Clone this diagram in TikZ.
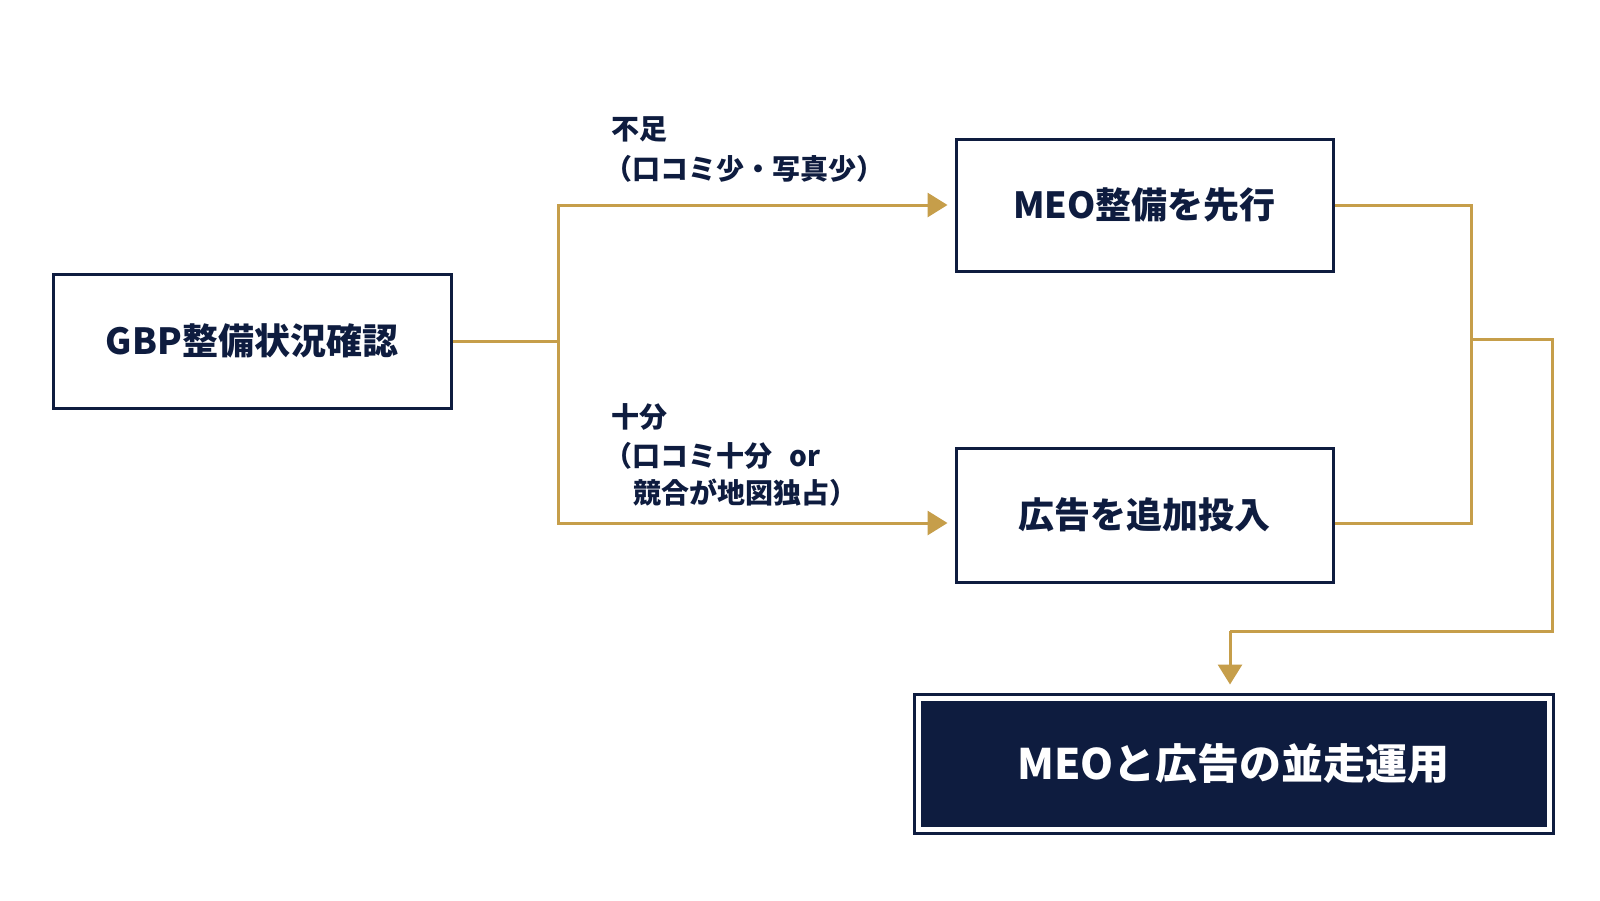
\documentclass[tikz,border=0pt]{standalone}
\usepackage{fontspec}
\setmainfont{Noto Sans CJK JP}
\usetikzlibrary{arrows.meta,calc}
\definecolor{navy}{HTML}{0E1C3F}
\definecolor{gold}{HTML}{C69E4A}
\tikzset{
  box/.style={draw=navy,line width=1.5pt,fill=white,text=navy,font=\bfseries\fontsize{18}{22}\selectfont,inner sep=0pt},
  conn/.style={draw=gold,line width=1.5pt},
  arr/.style={conn,-{Triangle[length=10pt,width=12pt]}},
  lbl/.style={anchor=west,text=navy,font=\bfseries\fontsize{14}{17}\selectfont,inner sep=0pt}
}
\begin{document}
\begin{tikzpicture}[x=0.5pt,y=-0.5pt]
\useasboundingbox (0,0) rectangle (1600,900);
\fill[white] (0,0) rectangle (1600,900);
% boxes
\node[box,minimum width=199pt,minimum height=67pt] (gbp) at (252,341) {GBP整備状況確認};
\node[box,minimum width=188.5pt,minimum height=66pt] (meo) at (1144.5,205) {MEO整備を先行};
\node[box,minimum width=188.5pt,minimum height=67pt] (ad) at (1144.5,515) {広告を追加投入};
\node[draw=navy,line width=1.5pt,fill=white,minimum width=319.5pt,minimum height=69.5pt,inner sep=0pt] (fin) at (1233.5,763.5) {};
\node[fill=navy,minimum width=313pt,minimum height=63pt,inner sep=0pt,text=white,font=\bfseries\fontsize{21}{25}\selectfont] (fintext) at (fin.center) {MEOと広告の並走運用};
% coordinates
\coordinate (j1) at (558,341);
\coordinate (j2) at (1471,339);
\coordinate (c3) at (1552,339);
\coordinate (c4) at (1552,631);
\coordinate (c5) at (1230,631);
% connectors
\draw[conn] (gbp.east) -- (j1);
\draw[arr,shorten >=3.5pt] (j1) |- (meo.west);
\draw[arr,shorten >=3.5pt] (j1) |- ([yshift=-4pt]ad.west);
\draw[conn] (meo.east) -| (j2);
\draw[conn] ([yshift=-4pt]ad.east) -| (j2);
\draw[conn] (j2) -- (c3) -- (c4) -- (c5);
\draw[arr,shorten >=4pt] (c5) -- (c5 |- fin.north);
% labels
\node[lbl] (l1a) at (611,129) {不足};
\node[lbl] (l1b) at (604,169) {（口コミ少・写真少）};
\node[lbl] (l2a) at (611,417) {十分};
\node[lbl] (l2b) at (604,456) {（口コミ十分\hspace{0.6em}or};
\node[lbl] (l2c) at (633,493) {競合が地図独占）};
\end{tikzpicture}
\end{document}
